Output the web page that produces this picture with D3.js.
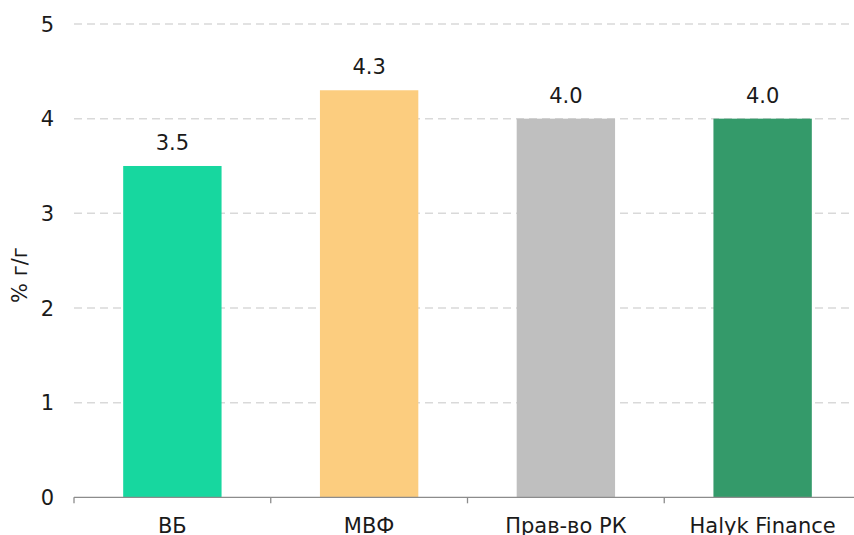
<!DOCTYPE html>
<html>
<head>
<meta charset="utf-8">
<script src="https://cdn.jsdelivr.net/npm/d3@7"></script>
<style>
  html, body { margin: 0; padding: 0; background: #fff; }
  svg { display: block; font-family: Verdana, "DejaVu Sans", sans-serif; }
</style>
</head>
<body>
<svg id="chart" width="854" height="535"></svg>
<script>
const categories = ["ВБ", "МВФ", "Прав-во РК", "Halyk Finance"];
const values = [3.5, 4.3, 4.0, 4.0];
const valueLabels = ["3.5", "4.3", "4.0", "4.0"];
const colors = ["#17d79f", "#fccd7f", "#bfbfbf", "#349a6a"];
const yTicks = [0, 1, 2, 3, 4, 5];
const yTitle = "% г/г";

(function () {
const svg = d3.select("#chart");
const plotLeft = 74, plotRight = 861, plotTop = 24, plotBottom = 497.3;
const fs = 21, txt = "#1a1a1a";

const x = d3.scaleBand().domain(categories).range([plotLeft, plotRight])
  .paddingInner(0.5).paddingOuter(0.25);
const y = d3.scaleLinear().domain([0, 5]).range([plotBottom, plotTop]);

// gridlines
svg.append("g").selectAll("line").data(yTicks.filter(d => d > 0)).join("line")
  .attr("x1", plotLeft).attr("x2", 854)
  .attr("y1", d => y(d)).attr("y2", d => y(d))
  .attr("stroke", "#d9d9d9").attr("stroke-width", 1.5)
  .attr("stroke-dasharray", "8,5");

// y tick labels
svg.append("g").selectAll("text").data(yTicks).join("text")
  .attr("x", 54).attr("y", d => y(d)).attr("dy", "0.36em")
  .attr("text-anchor", "end").attr("font-size", fs).attr("fill", txt)
  .text(d => d);

// y title
svg.append("text")
  .attr("transform", "translate(27,275) rotate(-90)")
  .attr("text-anchor", "middle").attr("font-size", fs).attr("fill", txt)
  .text(yTitle);

// bars
svg.append("g").selectAll("rect").data(categories).join("rect")
  .attr("x", d => x(d)).attr("width", x.bandwidth())
  .attr("y", (d, i) => y(values[i]))
  .attr("height", (d, i) => y(0) - y(values[i]))
  .attr("fill", (d, i) => colors[i]);

// value labels
svg.append("g").selectAll("text").data(categories).join("text")
  .attr("x", d => x(d) + x.bandwidth() / 2)
  .attr("y", (d, i) => y(values[i]) - 16)
  .attr("text-anchor", "middle").attr("font-size", fs).attr("fill", txt)
  .text((d, i) => valueLabels[i]);

// x axis
const gap = (x.step() - x.bandwidth()) / 2;
const xa = svg.append("g");
xa.append("line").attr("x1", plotLeft).attr("x2", 854)
  .attr("y1", y(0)).attr("y2", y(0))
  .attr("stroke", "#8c8c8c").attr("stroke-width", 1.3);
xa.selectAll("line.tick").data(categories).join("line").attr("class", "tick")
  .attr("x1", d => x(d) - gap).attr("x2", d => x(d) - gap)
  .attr("y1", y(0)).attr("y2", y(0) + 6)
  .attr("stroke", "#8c8c8c").attr("stroke-width", 1.3);
xa.selectAll("text.lbl").data(categories).join("text").attr("class", "lbl")
  .attr("x", d => x(d) + x.bandwidth() / 2)
  .attr("y", 533)
  .attr("text-anchor", "middle").attr("font-size", fs).attr("fill", txt)
  .text(d => d);
})();
</script>
</body>
</html>
